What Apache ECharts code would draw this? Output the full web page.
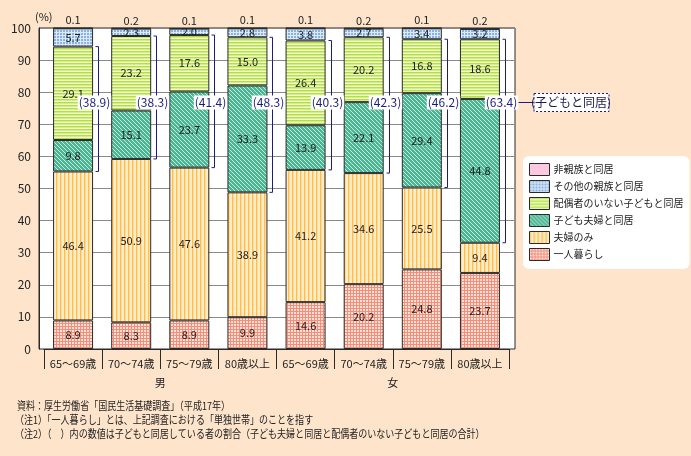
<!DOCTYPE html>
<html>
<head>
<meta charset="utf-8">
<script src="https://cdn.jsdelivr.net/npm/echarts@6/dist/echarts.min.js"></script>
<style>
html,body{margin:0;padding:0;background:#fde4cb;}
#chart{width:691px;height:456px;}
</style>
</head>
<body>
<div id="chart"></div>
<script>
// ---- data ----
const categories = ['65～69歳','70～74歳','75～79歳','80歳以上','65～69歳','70～74歳','75～79歳','80歳以上'];
const groups = ['男','女'];
const seriesNames = ['一人暮らし','夫婦のみ','子ども夫婦と同居','配偶者のいない子どもと同居','その他の親族と同居','非親族と同居'];
const single = [8.9, 8.3, 8.9, 9.9, 14.6, 20.2, 24.8, 23.7];
const coupleOnly = [46.4, 50.9, 47.6, 38.9, 41.2, 34.6, 25.5, 9.4];
const withChildCouple = [9.8, 15.1, 23.7, 33.3, 13.9, 22.1, 29.4, 44.8];
const withUnmarriedChild = [29.1, 23.2, 17.6, 15.0, 26.4, 20.2, 16.8, 18.6];
const otherRelatives = [5.7, 2.3, 2.0, 2.8, 3.8, 2.7, 3.4, 3.2];
const nonRelatives = [0.1, 0.2, 0.1, 0.1, 0.1, 0.2, 0.1, 0.2];
const livingWithChildren = [38.9, 38.3, 41.4, 48.3, 40.3, 42.3, 46.2, 63.4];
const calloutText = '(子どもと同居)';
const yTicks = [0,10,20,30,40,50,60,70,80,90,100];
const notes = [
  '資料：厚生労働省「国民生活基礎調査」（平成17年）',
  '（注1）「一人暮らし」とは、上記調査における「単独世帯」のことを指す',
  '（注2）（　）内の数値は子どもと同居している者の割合（子ども夫婦と同居と配偶者のいない子どもと同居の合計）'
];

// ---- patterns ----
function pat(w, h, fn) {
  const c = document.createElement('canvas');
  c.width = w; c.height = h;
  const ctx = c.getContext('2d');
  fn(ctx);
  return { image: c, repeat: 'repeat' };
}
const pSingle = pat(3, 3, ctx => {
  ctx.fillStyle = '#f48e7a'; ctx.fillRect(0, 0, 3, 3);
  ctx.fillStyle = '#fde0d6'; ctx.fillRect(0, 0, 2, 2);
});
const pCouple = pat(4, 4, ctx => {
  ctx.fillStyle = '#ffecc8'; ctx.fillRect(0, 0, 4, 4);
  ctx.fillStyle = '#ffbe4c'; ctx.fillRect(0, 0, 1, 4);
  ctx.fillStyle = '#ffdb94'; ctx.fillRect(1, 0, 1, 4);
});
const pChildCouple = pat(4, 4, ctx => {
  ctx.fillStyle = '#4cb594'; ctx.fillRect(0, 0, 4, 4);
  ctx.fillStyle = '#c4eadb';
  for (let i = 0; i < 4; i++) ctx.fillRect(i, i, 1, 1);
});
const pUnmarried = pat(3, 3, ctx => {
  ctx.fillStyle = '#f2ffcc'; ctx.fillRect(0, 0, 3, 3);
  ctx.fillStyle = '#b4de48'; ctx.fillRect(0, 0, 3, 1);
  ctx.fillStyle = '#d4ee8c'; ctx.fillRect(0, 1, 3, 1);
});
const pOther = pat(3, 3, ctx => {
  ctx.fillStyle = '#dce9f7'; ctx.fillRect(0, 0, 3, 3);
  ctx.fillStyle = '#88b2e2'; ctx.fillRect(0, 0, 2, 2);
});
const pNon = '#ffc8e2';

const fills = [pSingle, pCouple, pChildCouple, pUnmarried, pOther, pNon];
const values = [single, coupleOnly, withChildCouple, withUnmarriedChild, otherRelatives, nonRelatives];
const FONT = '"Noto Sans CJK JP", "Noto Sans", sans-serif';
const NAVY = '#1c1c80';

const barSeries = seriesNames.map((name, k) => ({
  name: name,
  type: 'bar',
  stack: 'total',
  xAxisIndex: 1,
  yAxisIndex: 1,
  barWidth: 40,
  data: values[k],
  itemStyle: { color: fills[k], borderColor: '#2a2a2a', borderWidth: 1 },
  label: k === 5 ? {
    show: true, position: 'top', distance: 2,
    fontSize: 11, color: '#222', fontFamily: FONT,
    formatter: p => p.value.toFixed(1)
  } : {
    show: true, position: 'inside',
    fontSize: 11, color: '#222', fontFamily: FONT,
    formatter: p => p.value.toFixed(1)
  },
  emphasis: { disabled: true },
  z: 2
}));

const bracketData = categories.map((c, i) => [
  i,
  single[i] + coupleOnly[i],
  single[i] + coupleOnly[i] + withChildCouple[i] + withUnmarriedChild[i],
  livingWithChildren[i]
]);

const bracketSeries = {
  type: 'custom',
  xAxisIndex: 1,
  yAxisIndex: 1,
  z: 5,
  clip: false,
  silent: true,
  data: bracketData,
  encode: { x: 0, y: 1 },
  renderItem: function (params, api) {
    const i = api.value(0);
    const cx = api.coord([i, 0])[0];
    const yb = api.coord([i, api.value(1)])[1];
    const yt = api.coord([i, api.value(2)])[1];
    const ty = api.coord([i, 76.8])[1];
    const bx = Math.round(cx + 25) + 0.5;
    const children = [
      {
        type: 'polyline',
        shape: { points: [[bx - 3, yt], [bx, yt], [bx, yb], [bx - 3, yb]] },
        style: { stroke: NAVY, lineWidth: 1, fill: null }
      },
      {
        type: 'text',
        x: bx - 4, y: ty,
        style: {
          text: '(' + api.value(3).toFixed(1) + ')',
          fill: NAVY, font: '12px ' + FONT,
          align: 'center', verticalAlign: 'middle',
          backgroundColor: '#fff', padding: [1, 1]
        }
      }
    ];
    if (params.dataIndex === categories.length - 1) {
      const boxL = bx + 28, boxW = 75, boxH = 18;
      children.push({
        type: 'line',
        shape: { x1: bx + 13, y1: Math.round(ty) + 0.5, x2: boxL, y2: Math.round(ty) + 0.5 },
        style: { stroke: NAVY, lineWidth: 1 }
      });
      children.push({
        type: 'rect',
        shape: { x: boxL + 0.5, y: Math.round(ty - boxH / 2) + 0.5, width: boxW, height: boxH },
        style: { fill: '#fff', stroke: NAVY, lineWidth: 1, lineDash: [2, 2] }
      });
      children.push({
        type: 'text',
        x: boxL + boxW / 2, y: ty,
        style: {
          text: calloutText, fill: '#1a1a50', font: '12px ' + FONT,
          align: 'center', verticalAlign: 'middle'
        }
      });
    }
    return { type: 'group', children: children };
  }
};

const chart = echarts.init(document.getElementById('chart'), null, { renderer: 'canvas' });
chart.setOption({
  animation: false,
  backgroundColor: '#fde4cb',
  textStyle: { fontFamily: FONT },
  grid: [
    { left: 39, right: 176, top: 28, bottom: 107, show: true, backgroundColor: '#fff', borderColor: '#2a2a2a', borderWidth: 1 },
    { left: 44, right: 182, top: 28, bottom: 107 }
  ],
  xAxis: [
    { type: 'value', gridIndex: 0, min: 0, max: 1, show: false },
    {
      type: 'category', gridIndex: 1, data: categories,
      axisLine: { show: true, lineStyle: { color: '#2a2a2a' } },
      axisTick: { show: true, length: 20, interval: 0, lineStyle: { color: '#2a2a2a' } },
      axisLabel: { fontSize: 11, color: '#222', margin: 9, interval: 0, fontFamily: FONT }
    },
    {
      type: 'category', gridIndex: 1, data: groups, position: 'bottom', offset: 24,
      axisLine: { show: false }, axisTick: { show: false },
      axisLabel: { fontSize: 11, color: '#222', margin: 4, fontFamily: FONT }
    }
  ],
  yAxis: [
    {
      type: 'value', gridIndex: 0, min: yTicks[0], max: yTicks[yTicks.length - 1], interval: 10,
      name: '(%)', nameLocation: 'end', nameGap: 6,
      nameTextStyle: { fontSize: 11, color: '#222', align: 'left', padding: [0, 0, 0, -4], fontFamily: FONT },
      axisLine: { show: true, lineStyle: { color: '#2a2a2a' } },
      axisTick: { show: false },
      axisLabel: { fontSize: 12, color: '#222', margin: 8, fontFamily: FONT },
      splitLine: { show: true, lineStyle: { color: '#8a8a8a', width: 1 } }
    },
    { type: 'value', gridIndex: 1, min: 0, max: 100, show: false }
  ],
  legend: {
    orient: 'vertical',
    left: 523, top: 156,
    data: seriesNames.slice().reverse(),
    itemWidth: 20, itemHeight: 12, itemGap: 4,
    icon: 'rect',
    backgroundColor: '#fff', borderRadius: 6,
    padding: [7, 6, 8, 6],
    textStyle: { fontSize: 10, color: '#222', fontFamily: FONT, padding: [0, 0, 0, -1] },
    itemStyle: { borderColor: '#2a2a2a', borderWidth: 1 },
    selectedMode: false
  },
  graphic: notes.map((t, k) => ({
    type: 'text',
    x: k === 0 ? 17 : 15,
    y: 400 + k * 14,
    scaleX: 0.82,
    style: { text: t, fill: '#222', font: '11px ' + FONT }
  })),
  series: barSeries.concat([bracketSeries])
});
</script>
</body>
</html>
